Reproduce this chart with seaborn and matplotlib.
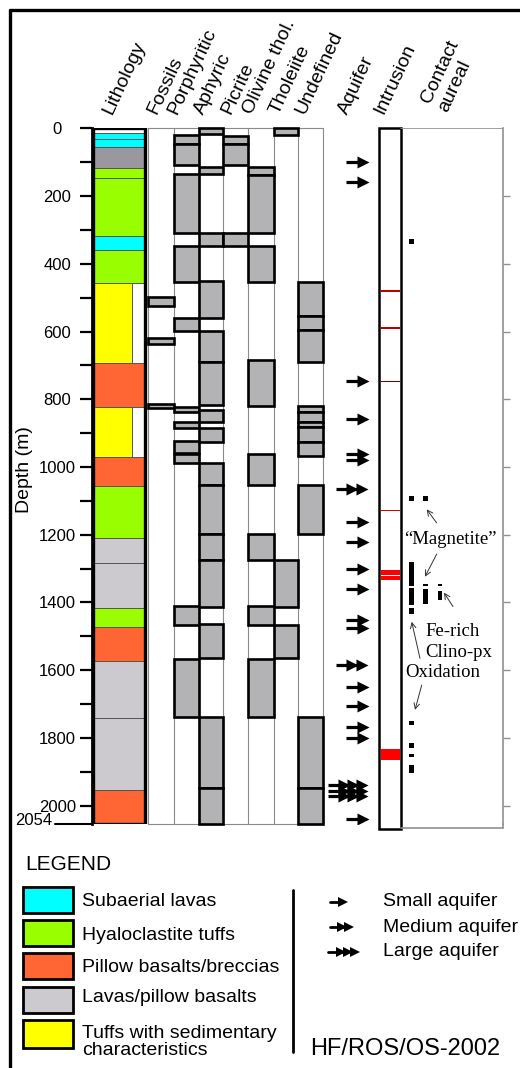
import numpy as np
import pandas as pd
import matplotlib
matplotlib.use("Agg")
import matplotlib.pyplot as plt
from matplotlib.patches import Rectangle
import seaborn as sns

# ---------------- data (depth in m) ----------------
litho_top = [0, 13, 31, 54, 118, 148, 318, 359, 456, 694, 824, 971, 1056, 1210, 1284, 1417, 1471, 1572, 1742, 1954]
litho_bottom = [13, 31, 54, 118, 148, 318, 359, 456, 694, 824, 971, 1056, 1210, 1284, 1417, 1471, 1572, 1742, 1954, 2054]
litho_unit = ["none", "subaerial", "subaerial", "unknown", "hyalo", "hyalo", "subaerial", "hyalo",
              "tuff", "pillow", "tuff", "pillow", "hyalo", "lava", "lava", "hyalo", "pillow",
              "lava", "lava", "pillow"]

# petrology columns, (top, bottom) intervals
fossils = [(497, 524), (618, 638), (815, 827)]
porphyritic = [(20, 46), (46, 108), (135, 310), (347, 453), (559, 598), (822, 839), (868, 886),
               (923, 960), (963, 989), (1410, 1466), (1566, 1737)]
aphyric = [(0, 17), (113, 135), (310, 347), (451, 559), (598, 689), (689, 817), (832, 868),
           (886, 925), (989, 1053), (1053, 1198), (1198, 1275), (1275, 1412), (1463, 1565),
           (1737, 1947), (1947, 2054)]
picrite = [(23, 46), (46, 108), (310, 347)]
olivine_thol = [(113, 137), (137, 310), (347, 453), (684, 819), (963, 1053), (1198, 1275),
                (1410, 1466), (1566, 1737)]
tholeiite = [(0, 20), (1275, 1412), (1466, 1565)]
undefined = [(453, 553), (553, 595), (595, 689), (819, 837), (837, 868), (868, 882), (882, 925),
             (925, 967), (1053, 1198), (1737, 1947), (1947, 2054)]

# aquifers
small_aquifer = [99, 158, 745, 859, 962, 980, 1162, 1221, 1301, 1361, 1452, 1476,
                 1649, 1706, 1767, 1801, 2040]
medium_aquifer = [1066, 1585]
large_aquifer = [1940, 1956, 1972]

# intrusions
intrusion_top = [478, 587, 746, 1126, 1304, 1321, 1832]
intrusion_bottom = [483, 592, 750, 1131, 1318, 1333, 1865]
intrusion_color = ["#C00000", "#C00000", "#800000", "#E00000", "#FF0000", "#FF0000", "#FF0000"]

# contact aureole observations
aureal_top = [327, 1086, 1086, 1280, 1358, 1416, 1344, 1360, 1345, 1365, 1749, 1816, 1847, 1880]
aureal_bottom = [342, 1100, 1100, 1352, 1408, 1434, 1352, 1405, 1352, 1393, 1762, 1831, 1857, 1902]
aureal_slot = [0, 0, 1, 0, 0, 0, 1, 1, 2, 2, 0, 0, 0, 0]

headers = ["Lithology", "Fossils", "Porphyritic", "Aphyric", "Picrite", "Olivine thol.",
           "Tholeiite", "Undefined", "Aquifer", "Intrusion"]

legend_labels = ["Subaerial lavas", "Hyaloclastite tuffs", "Pillow basalts/breccias",
                 "Lavas/pillow basalts", "Tuffs with sedimentary\ncharacteristics"]
legend_units = ["subaerial", "hyalo", "pillow", "lava", "tuff"]
aquifer_labels = ["Small aquifer", "Medium aquifer", "Large aquifer"]

unit_colors = {"none": "white", "subaerial": "#00FFFF", "unknown": "#9A989E", "hyalo": "#99FF00",
               "tuff": "#FFFF00", "pillow": "#FF6633", "lava": "#CCCACE"}

# ---------------- figure ----------------
sns.set_theme(style="white")
plt.rcParams["font.family"] = ["Liberation Sans", "DejaVu Sans"]
plt.rcParams["text.color"] = "black"
plt.rcParams["axes.labelcolor"] = "black"
plt.rcParams["ytick.color"] = "black"

W, H = 520, 1068
fig = plt.figure(figsize=(W / 100, H / 100), dpi=100)

bg = fig.add_axes([0, 0, 1, 1])
bg.set_xlim(0, W)
bg.set_ylim(H, 0)
bg.axis("off")
bg.plot([10, 10], [H, 10], color="black", lw=2.4)
bg.plot([10, W], [10, 10], color="black", lw=2.4)

ax = fig.add_axes([92 / W, 1 - 824 / H, 411 / W, (824 - 128.3) / H])
ax.patch.set_alpha(0)
ax.set_xlim(92, 503)
ax.set_ylim(2054, 0)
for s in ["top", "bottom", "right"]:
    ax.spines[s].set_visible(False)
ax.spines["left"].set_color("black")
ax.spines["left"].set_linewidth(2.0)
ax.set_xticks([])
ax.set_yticks(range(0, 2001, 200))
ax.set_yticks(range(100, 2000, 200), minor=True)
ax.tick_params(axis="y", which="both", direction="out", length=9, width=1.6, color="black",
               left=True, labelsize=12, pad=16, labelcolor="black")
for lbl in ax.get_yticklabels():
    lbl.set_horizontalalignment("center")

# 2054 bottom label
ax.plot([55, 92], [2054, 2054], color="black", lw=1.5, clip_on=False)
ax.text(34, 2044, "2054", ha="center", va="center", fontsize=12, clip_on=False)

# right gray axis of the contact aureole column
ax2 = ax.twinx()
ax2.set_ylim(2054, 0)
for s in ["top", "bottom", "left"]:
    ax2.spines[s].set_visible(False)
ax2.spines["right"].set_color("#909090")
ax2.spines["right"].set_linewidth(1.2)
ax2.set_yticks(range(200, 2001, 200))
ax2.tick_params(axis="y", direction="out", length=5, width=1, color="#909090", labelright=False, right=True)
ax2.grid(False)
ax.grid(False)

# lithology column
litho = pd.DataFrame({"top": litho_top, "bottom": litho_bottom, "unit": litho_unit})
litho["thick"] = litho["bottom"] - litho["top"]
litho["width"] = np.where(litho["unit"] == "tuff", 39, 52)
ax.bar(93, litho["thick"], bottom=litho["top"], width=litho["width"], align="edge",
       color=[unit_colors[u] for u in litho["unit"]], edgecolor="#555555", linewidth=0.7)
ax.add_patch(Rectangle((93, 0), 52, 2054, fill=False, ec="black", lw=2.4, zorder=3))

# petrology columns
col_edges = [148, 174, 199, 223, 248, 274, 298, 323]
columns = [fossils, porphyritic, aphyric, picrite, olivine_thol, tholeiite, undefined]
for x in col_edges:
    ax.plot([x, x], [0, 2054], color="#8A8A8A", lw=0.8, zorder=1)
ax.plot([148, 323], [0, 0], color="#8A8A8A", lw=0.8, clip_on=False)
ax.plot([148, 323], [2054, 2054], color="#8A8A8A", lw=0.8, clip_on=False)
for i, col in enumerate(columns):
    tops = [t for t, b in col]
    hts = [b - t for t, b in col]
    ax.bar([col_edges[i]] * len(col), hts, bottom=tops, width=col_edges[i + 1] - col_edges[i],
           align="edge", color="#B3B2B5", edgecolor="black", linewidth=1.9, zorder=2, clip_on=False)

# aquifers
aq = pd.DataFrame({"depth": small_aquifer + medium_aquifer + large_aquifer,
                   "kind": ["small"] * len(small_aquifer) + ["medium"] * len(medium_aquifer)
                   + ["large"] * len(large_aquifer)})
stem_start = {"small": 346, "medium": 336, "large": 328}
head_x = {"small": [363], "medium": [352, 362], "large": [344, 353, 362]}
for _, r in aq.iterrows():
    ax.plot([stem_start[r["kind"]], 359], [r["depth"], r["depth"]], color="black", lw=2.3,
            solid_capstyle="butt")
heads = pd.DataFrame([(hx, r["depth"]) for _, r in aq.iterrows() for hx in head_x[r["kind"]]],
                     columns=["x", "depth"])
sns.scatterplot(data=heads, x="x", y="depth", marker=">", s=75, color="black", linewidth=0,
                ax=ax, zorder=4, legend=False)
ax.set_xlabel("")
ax.set_ylabel("Depth (m)", fontsize=14, color="black")
ax.yaxis.set_label_coords(-0.1435, 0.51)
ax.set_xlim(92, 503)
ax.set_ylim(2054, 0)

# intrusion column
ax.add_patch(Rectangle((379, 0), 22, 2068, fc="white", ec="black", lw=1.8, zorder=2, clip_on=False))
ax.bar(380.5, [b - t for t, b in zip(intrusion_top, intrusion_bottom)], bottom=intrusion_top,
       width=19, align="edge", color=intrusion_color, linewidth=0, zorder=3)

# contact aureole column
ax.plot([401, 503], [0, 0], color="#909090", lw=1.2)
ax.plot([401, 503], [2066, 2066], color="#909090", lw=1.2, clip_on=False)
ax.plot([503, 503], [2054, 2066], color="#909090", lw=1.2, clip_on=False)
slot_x = [409, 423, 437.5]
ax.bar([slot_x[s] for s in aureal_slot], [b - t for t, b in zip(aureal_top, aureal_bottom)],
       bottom=aureal_top, width=4.5, align="edge", color="black", linewidth=0, zorder=3)

serif = "Liberation Serif"
ax.text(450, 1215, "\u201cMagnetite\u201d", ha="center", va="center", fontsize=13.5, family=serif)
ax.text(425, 1486, "Fe-rich", ha="left", va="center", fontsize=13.5, family=serif)
ax.text(425, 1548, "Clino-px", ha="left", va="center", fontsize=13.5, family=serif)
ax.text(443, 1606, "Oxidation", ha="center", va="center", fontsize=13.5, family=serif)
arrow_kw = dict(arrowstyle="->", lw=0.7, color="#333333", shrinkA=0, shrinkB=0, mutation_scale=10)
for tail, head in [((436.7, 1165), (426.7, 1125)), ((436.7, 1257), (425, 1324)),
                   ((453, 1412), (444, 1371)), ((420, 1565), (411.7, 1457)),
                   ((421.7, 1644), (415, 1717))]:
    ax.annotate("", xy=head, xytext=tail, arrowprops=arrow_kw)

# column headers
header_x = [112, 156, 177, 203, 230, 252, 279, 305, 347, 383]
for x, t in zip(header_x, headers):
    ax.text(x, -39, t, rotation=65, rotation_mode="anchor", ha="left", va="baseline",
            fontsize=14, clip_on=False)
ax.text(430, -72, "Contact", rotation=65, rotation_mode="anchor", ha="left", va="baseline",
        fontsize=14, clip_on=False)
ax.text(447, -45, "aureal", rotation=65, rotation_mode="anchor", ha="left", va="baseline",
        fontsize=14, clip_on=False)

# ---------------- legend ----------------
bg.text(25, 865, "LEGEND", ha="left", va="center", fontsize=15)
sw_y = [887, 920, 953, 987, 1020]
sw_h = [26, 26, 26, 26, 28]
txt_y = [902, 935, 967, 997, 1042]
for y, h, ty, unit, lab in zip(sw_y, sw_h, txt_y, legend_units, legend_labels):
    bg.add_patch(Rectangle((23, y), 50, h, fc=unit_colors[unit], ec="black", lw=2))
    bg.text(82, ty, lab, ha="left", va="center", fontsize=14, linespacing=1.05)
bg.plot([293, 293], [890, 1052], color="black", lw=2)

leg_y = [902, 927, 952]
leg_stem = [(330, 340), (330, 344), (328, 346)]
leg_heads = [[343], [342, 349], [341, 348, 355]]
for y, (x0, x1), hx, lab in zip(leg_y, leg_stem, leg_heads, aquifer_labels):
    bg.plot([x0, x1], [y, y], color="black", lw=2)
    bg.plot(hx, [y] * len(hx), ">", color="black", ms=7, mew=0)
    bg.text(383, y, lab, ha="left", va="center", fontsize=14)
bg.text(310, 1049, "HF/ROS/OS-2002", ha="left", va="center", fontsize=17)

fig.savefig("out.png", dpi=100)
